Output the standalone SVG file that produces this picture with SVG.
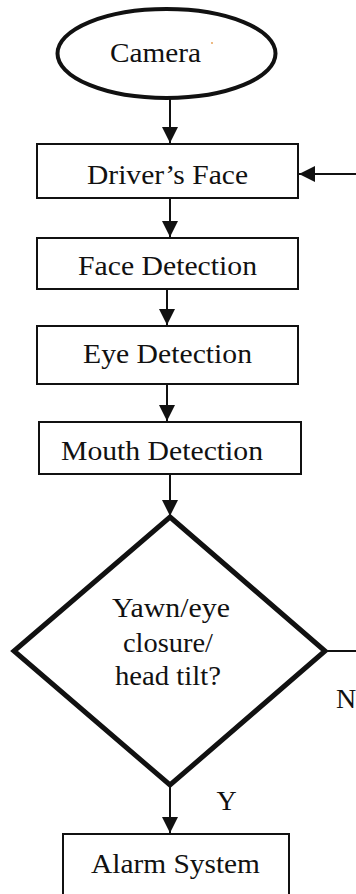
<svg xmlns="http://www.w3.org/2000/svg" width="356" height="894" viewBox="0 0 356 894">
  <style>
    .box { fill: #ffffff; stroke: #111111; stroke-width: 2; }
    .lbl { font-family: "Liberation Serif", "Times New Roman", serif; font-size: 28px; fill: #111111; text-anchor: middle; }
    .edge { fill: none; stroke: #111111; stroke-width: 2; }
  </style>
  <defs>
    <marker id="arrow" markerUnits="userSpaceOnUse" markerWidth="16" markerHeight="16" refX="16" refY="8" orient="auto">
      <path d="M0,0 L16,8 L0,16 z" fill="#111111"/>
    </marker>
  </defs>
  <rect width="356" height="894" fill="#ffffff"/>

  <!-- connectors -->
  <g id="connectors">
    <line class="edge" x1="170" y1="99" x2="170" y2="143" marker-end="url(#arrow)"/>
    <line class="edge" x1="170" y1="198" x2="170" y2="237" marker-end="url(#arrow)"/>
    <line class="edge" x1="167" y1="289" x2="167" y2="325" marker-end="url(#arrow)"/>
    <line class="edge" x1="167" y1="384" x2="167" y2="421" marker-end="url(#arrow)"/>
    <line class="edge" x1="170" y1="474" x2="170" y2="516" marker-end="url(#arrow)"/>
    <line class="edge" x1="170" y1="786" x2="170" y2="833" marker-end="url(#arrow)"/>
    <!-- "N" branch leaving to the right, and loop-back into Driver's Face -->
    <line class="edge" x1="325" y1="651" x2="356" y2="651" stroke-width="1.5"/>
    <line class="edge" x1="356" y1="174" x2="299" y2="174" marker-end="url(#arrow)"/>
    <text class="lbl" x="346" y="708">N</text>
    <text class="lbl" x="226.5" y="810">Y</text>
  </g>

  <g id="camera">
    <ellipse cx="166.5" cy="53.5" rx="109" ry="44.5" fill="#ffffff" stroke="#111111" stroke-width="4"/>
    <text class="lbl" x="155.5" y="62" textLength="91" lengthAdjust="spacingAndGlyphs">Camera</text>
    <circle cx="212" cy="43" r="0.9" fill="#e59a4a"/>
  </g>

  <g id="drivers-face">
    <rect class="box" x="37" y="144" width="261" height="54"/>
    <text class="lbl" x="167.5" y="184" textLength="161" lengthAdjust="spacingAndGlyphs">Driver’s Face</text>
  </g>

  <g id="face-detection">
    <rect class="box" x="37" y="238" width="261" height="51"/>
    <text class="lbl" x="167.5" y="275" textLength="179" lengthAdjust="spacingAndGlyphs">Face Detection</text>
  </g>

  <g id="eye-detection">
    <rect class="box" x="37" y="326" width="261" height="58"/>
    <text class="lbl" x="167.5" y="363" textLength="169" lengthAdjust="spacingAndGlyphs">Eye Detection</text>
  </g>

  <g id="mouth-detection">
    <rect class="box" x="39" y="422" width="262" height="52"/>
    <text class="lbl" x="162" y="460" textLength="202" lengthAdjust="spacingAndGlyphs">Mouth Detection</text>
  </g>

  <g id="decision">
    <polygon points="170,517 325,651 170,785 14,651" fill="#ffffff" stroke="#111111" stroke-width="5" stroke-linejoin="miter"/>
    <text class="lbl" x="171" y="617" textLength="118" lengthAdjust="spacingAndGlyphs">Yawn/eye</text>
    <text class="lbl" x="168" y="652" textLength="90" lengthAdjust="spacingAndGlyphs">closure/</text>
    <text class="lbl" x="168" y="685" textLength="106" lengthAdjust="spacingAndGlyphs">head tilt?</text>
  </g>

  <g id="alarm-system">
    <rect class="box" x="63" y="834" width="226" height="64"/>
    <text class="lbl" x="175.5" y="873" textLength="169" lengthAdjust="spacingAndGlyphs">Alarm System</text>
  </g>
</svg>
